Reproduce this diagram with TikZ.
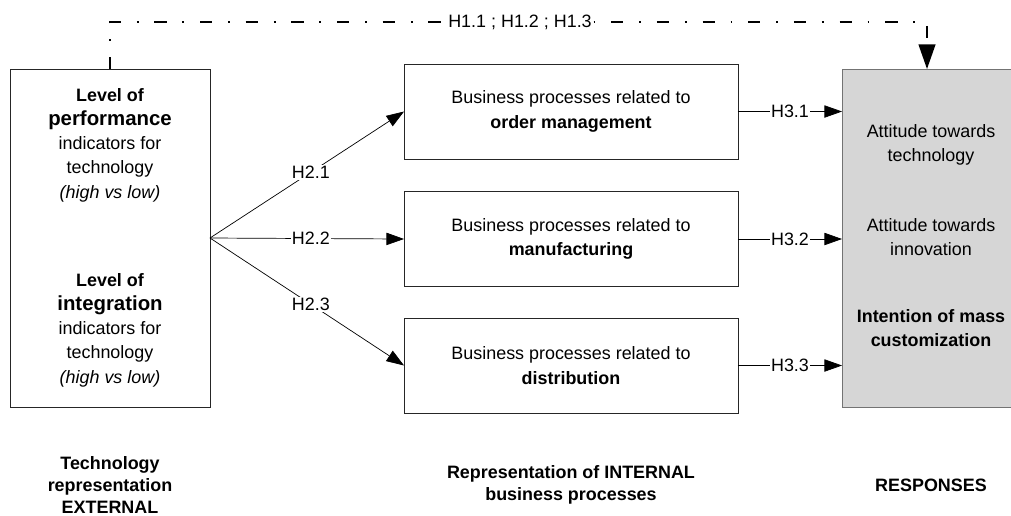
\documentclass[tikz,border=0pt]{standalone}
\usepackage{fontspec}
\setmainfont{Liberation Sans}
\usetikzlibrary{arrows.meta}
\definecolor{respgray}{RGB}{214,214,214}

\begin{document}
\begin{tikzpicture}
  [x=0.02cm,y=-0.02cm,
   every node/.style={font=\fontsize{10.2}{13.8}\selectfont,align=center},
   box/.style={draw=black!85,inner sep=0pt,outer sep=0pt},
   hyp/.style={fill=white,inner sep=0.6pt},
   arr/.style={-{Triangle[length=10pt,width=7pt]}},
   big/.style={font=\fontsize{11.6}{14}\selectfont\bfseries},
   foot/.style={font=\fontsize{10.2}{12.5}\selectfont\bfseries}]
  \useasboundingbox (0,0) rectangle (1011,515);
  % boxes
  \node[box,minimum width=4cm,minimum height=6.76cm] (tech) at (110,238) {};
  \node[box,minimum width=6.68cm,minimum height=1.9cm] (bpa) at (571,111.5)
    {Business processes related to\\ \textbf{order management}};
  \node[box,minimum width=6.68cm,minimum height=1.9cm] (bpb) at (571,239)
    {Business processes related to\\ \textbf{manufacturing}};
  \node[box,minimum width=6.68cm,minimum height=1.9cm] (bpc) at (571,365.5)
    {Business processes related to\\ \textbf{distribution}};
  \node[box,draw=black!55,fill=respgray,minimum width=3.4cm,minimum height=6.76cm] (resp) at (927,238) {};
  % texts in the outer boxes
  \node (perf) at (110,145) {\textbf{Level of}\\ {\fontsize{11.6}{14}\selectfont\bfseries performance}\\ indicators for\\ technology\\ \textit{(high vs low)}};
  \node (integ) at (110,330) {\textbf{Level of}\\ {\fontsize{11.6}{14}\selectfont\bfseries integration}\\ indicators for\\ technology\\ \textit{(high vs low)}};
  \node (atech) at (931,145) {Attitude towards\\ technology};
  \node (ainno) at (931,237) {Attitude towards\\ innovation};
  \node (mass) at (931,328) {\textbf{Intention of mass}\\ \textbf{customization}};
  % column titles
  \node[foot] (ext) at (110,485) {Technology\\ representation\\ EXTERNAL};
  \node[foot] (int) at (571,485) {Representation of INTERNAL\\ business processes};
  \node[foot] (rsp) at (931,485) {RESPONSES};
  % hypotheses
  \draw[line width=1.1pt,dash pattern=on 7pt off 9pt on 1pt off 9pt,
        -{Triangle[length=14pt,width=9.5pt]}]
    (tech.north) |- (927,22) -- (resp.north);
  \node[hyp] (hone) at (520,22) {H1.1 ; H1.2 ; H1.3};
  \foreach \to/\lab in {bpa/H2.1,bpb/H2.2,bpc/H2.3}
    \draw[arr] (tech.east) -- node[hyp,pos=0.52] {\lab} (\to.west);
  \foreach \from/\lab in {bpa/H3.1,bpb/H3.2,bpc/H3.3}
    \draw[arr] (\from.east) -- node[hyp] {\lab} (\from.east -| resp.west);
\end{tikzpicture}
\end{document}
